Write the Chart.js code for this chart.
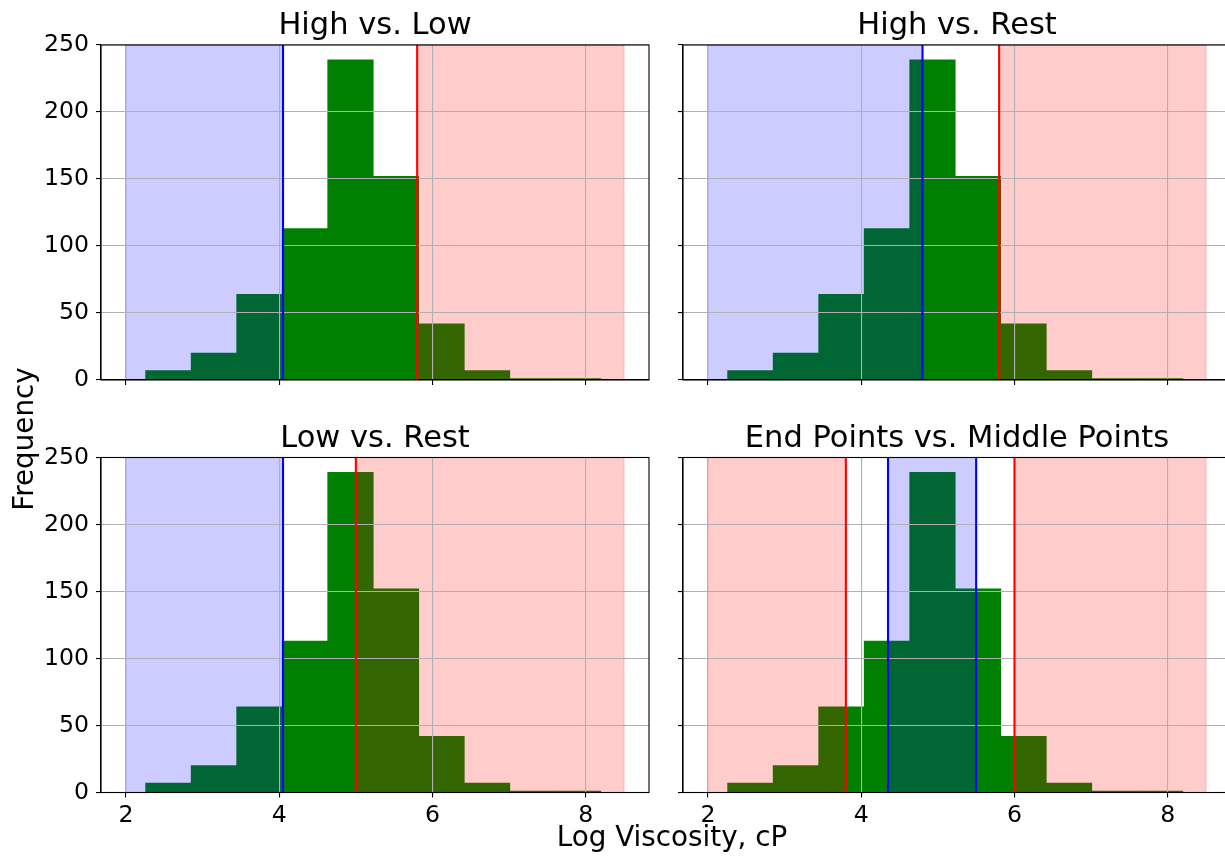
<!DOCTYPE html>
<html>
<head>
<meta charset="utf-8">
<script src="https://cdn.jsdelivr.net/npm/chart.js@4.4.0/dist/chart.umd.min.js"></script>
<style>
  html, body { margin: 0; padding: 0; background: #fff; overflow: hidden; }
  #fig { position: relative; width: 1225px; height: 856px; overflow: hidden; background: #fff; }
  #fig canvas { position: absolute; left: 0; top: 0; }
</style>
</head>
<body>
<div id="fig"></div>
<script>
// Histogram of log viscosity: shared bin edges and counts
const binEdges = [2.257, 2.851, 3.445, 4.039, 4.633, 5.227, 5.821, 6.415, 7.009, 7.603, 8.197];
const counts = [7, 20, 64, 113, 239, 152, 42, 7, 1, 1];

// Axis ticks
const xTickValues = [2, 4, 6, 8];
const yTickValues = [0, 50, 100, 150, 200, 250];

// One entry per panel: TL, TR, BL, BR
const panelTitles = ["High vs. Low", "High vs. Rest", "Low vs. Rest", "End Points vs. Middle Points"];
const blueRanges = [[[2, 4.05]], [[2, 4.8]], [[2, 4.05]], [[4.35, 5.5]]];
const redRanges = [[[5.8, 8.5]], [[5.8, 8.5]], [[5.0, 8.5]], [[2, 3.8], [6.0, 8.5]]];
const blueCuts = [[4.05], [4.8], [4.05], [4.35, 5.5]];
const redCuts = [[5.8], [5.8], [5.0], [3.8, 6.0]];

const X_MIN = 1.675, X_MAX = 8.825, Y_MAX = 250;
const xLabelText = "Log Viscosity, cP";
const yLabelText = "Frequency";

// Page geometry
const PAGE_W = 1240, PAGE_H = 856;
const PLOT_W = 548, PLOT_H = 335;
const colLeft = [101, 683];
const rowTop = [45, 457.5];
const Y_W = 60, X_H = 40;
const FONT = '"DejaVu Sans", sans-serif';

Chart.defaults.font.family = FONT;

const fig = document.getElementById('fig');

function makeDecor(p) {
  return {
    id: 'decor' + p,
    afterDatasetsDraw(chart) {
      const ctx = chart.ctx, xs = chart.scales.x, ca = chart.chartArea;
      ctx.save();
      ctx.beginPath();
      ctx.rect(ca.left, ca.top, ca.width, ca.height);
      ctx.clip();
      const spans = [];
      blueRanges[p].forEach(r => spans.push([r, 'rgba(0,0,255,0.2)']));
      redRanges[p].forEach(r => spans.push([r, 'rgba(255,0,0,0.2)']));
      spans.forEach(([r, col]) => {
        const x0 = xs.getPixelForValue(r[0]), x1 = xs.getPixelForValue(r[1]);
        ctx.fillStyle = col;
        ctx.fillRect(x0, ca.top, x1 - x0, ca.height);
        ctx.strokeStyle = col;
        ctx.lineWidth = 1;
        ctx.strokeRect(x0, ca.top, x1 - x0, ca.height);
      });
      ctx.restore();
    },
    afterDraw(chart) {
      const ctx = chart.ctx, xs = chart.scales.x, ca = chart.chartArea;
      ctx.save();
      ctx.beginPath();
      ctx.rect(ca.left, ca.top, ca.width, ca.height);
      ctx.clip();
      ctx.lineWidth = 2.1;
      const lines = [];
      blueCuts[p].forEach(v => lines.push([v, '#0000ff']));
      redCuts[p].forEach(v => lines.push([v, '#ff0000']));
      lines.forEach(([v, col]) => {
        const x = xs.getPixelForValue(v);
        ctx.strokeStyle = col;
        ctx.beginPath();
        ctx.moveTo(x, ca.top);
        ctx.lineTo(x, ca.bottom);
        ctx.stroke();
      });
      ctx.restore();
      // frame
      ctx.save();
      ctx.strokeStyle = '#000';
      ctx.lineWidth = 1.1;
      ctx.strokeRect(ca.left, ca.top, ca.width, ca.height);
      // title
      ctx.fillStyle = '#000';
      ctx.font = '30.5px ' + FONT;
      ctx.textAlign = 'center';
      ctx.textBaseline = 'alphabetic';
      ctx.fillText(panelTitles[p], (ca.left + ca.right) / 2, ca.top - 10.7);
      ctx.restore();
    }
  };
}

for (let p = 0; p < 4; p++) {
  const row = Math.floor(p / 2), col = p % 2;
  const left = colLeft[col], top = rowTop[row];
  const cv = document.createElement('canvas');
  cv.width = PAGE_W; cv.height = PAGE_H;
  cv.style.width = PAGE_W + 'px'; cv.style.height = PAGE_H + 'px';
  fig.appendChild(cv);

  const showX = row === 1, showY = col === 0;
  const data = counts.map((v, i) => ({ x: (binEdges[i] + binEdges[i + 1]) / 2, y: v }));

  new Chart(cv, {
    type: 'bar',
    data: {
      datasets: [{
        data,
        backgroundColor: '#008000',
        borderWidth: 0,
        categoryPercentage: 1.0,
        barPercentage: 1.0
      }]
    },
    options: {
      responsive: false,
      animation: false,
      devicePixelRatio: 1,
      layout: {
        padding: {
          left: left - Y_W,
          top: top,
          right: PAGE_W - (left + PLOT_W),
          bottom: PAGE_H - (top + PLOT_H) - X_H
        }
      },
      plugins: { legend: { display: false }, tooltip: { enabled: false } },
      scales: {
        x: {
          type: 'linear',
          min: X_MIN, max: X_MAX,
          offset: false,
          afterBuildTicks: s => { s.ticks = xTickValues.map(v => ({ value: v })); },
          afterFit: s => { s.height = X_H; },
          grid: { offset: false, color: '#b0b0b0', lineWidth: 1.1, z: 1, drawTicks: true, tickLength: 5, tickColor: '#000', tickWidth: 1.1 },
          border: { display: true, color: '#000', width: 1.1, z: 2 },
          ticks: { display: showX, color: '#000', font: { size: 23.6 }, padding: 4, maxRotation: 0, autoSkip: false }
        },
        y: {
          type: 'linear',
          min: 0, max: Y_MAX,
          afterBuildTicks: s => { s.ticks = yTickValues.map(v => ({ value: v })); },
          afterFit: s => { s.width = Y_W; },
          grid: { offset: false, color: '#b0b0b0', lineWidth: 1.1, z: 1, drawTicks: true, tickLength: 5, tickColor: '#000', tickWidth: 1.1 },
          border: { display: true, color: '#000', width: 1.1, z: 2 },
          ticks: { display: showY, color: '#000', font: { size: 23.6 }, padding: 7, autoSkip: false }
        }
      }
    },
    plugins: [makeDecor(p)]
  });
}

// Shared axis labels
const lc = document.createElement('canvas');
lc.width = PAGE_W; lc.height = PAGE_H;
fig.appendChild(lc);
const lctx = lc.getContext('2d');
lctx.fillStyle = '#000';
lctx.font = '27.8px ' + FONT;
lctx.textAlign = 'center';
lctx.textBaseline = 'alphabetic';
lctx.fillText(xLabelText, 672, 846);
lctx.save();
lctx.translate(33, 439);
lctx.rotate(-Math.PI / 2);
lctx.fillText(yLabelText, 0, 0);
lctx.restore();
</script>
</body>
</html>
